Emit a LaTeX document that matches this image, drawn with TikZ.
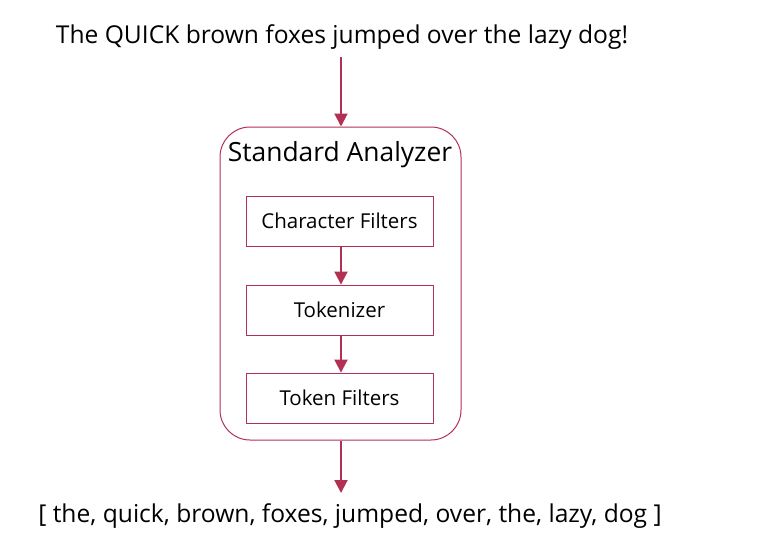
\documentclass[tikz,border=0pt]{standalone}
\usepackage{fontspec}
\setmainfont{Open Sans}
\usetikzlibrary{arrows.meta}
\definecolor{crim}{RGB}{178,48,84}
\tikzset{
  px/.style={x=1pt,y=-1pt},
  stage/.style={draw=crim, line width=0.9pt, minimum width=187pt, minimum height=50pt, font=\fontsize{20.5}{23}\selectfont, inner sep=0pt},
  outer/.style={draw=crim, line width=1pt, rounded corners=30pt},
  flow/.style={draw=crim, line width=2pt, -{Triangle[length=13pt,width=13pt]}},
  big/.style={font=\fontsize{24.6}{28}\selectfont, inner sep=0pt}
}
\begin{document}
\begin{tikzpicture}[px]
\useasboundingbox (0,0) rectangle (771,541);
\node[big, anchor=center] (in) at (342,37) {The QUICK brown foxes jumped over the lazy dog!};
\node[outer, minimum width=241pt, minimum height=313pt, inner sep=0pt] (an) at (340.5,283.5) {};
\node[font=\fontsize{26.4}{30}\selectfont, inner sep=0pt] (title) at (340,155) {Standard Analyzer};
\node[stage] (cf) at (339.5,221) {Character Filters};
\node[stage] (tk) at (339.5,310) {Tokenizer};
\node[stage] (tf) at (339.5,398) {Token Filters};
\node[big] (out) at (350,516) {[ the, quick, brown, foxes, jumped, over, the, lazy, dog ]};
\coordinate (intop) at (341,57);
\coordinate (outbot) at (341,493);
\draw[flow] (intop) -- (an.north -| intop);
\draw[flow] (cf.south -| intop) -- (tk.north -| intop);
\draw[flow] (tk.south -| intop) -- (tf.north -| intop);
\draw[flow] (an.south -| intop) -- (outbot);
\end{tikzpicture}
\end{document}
